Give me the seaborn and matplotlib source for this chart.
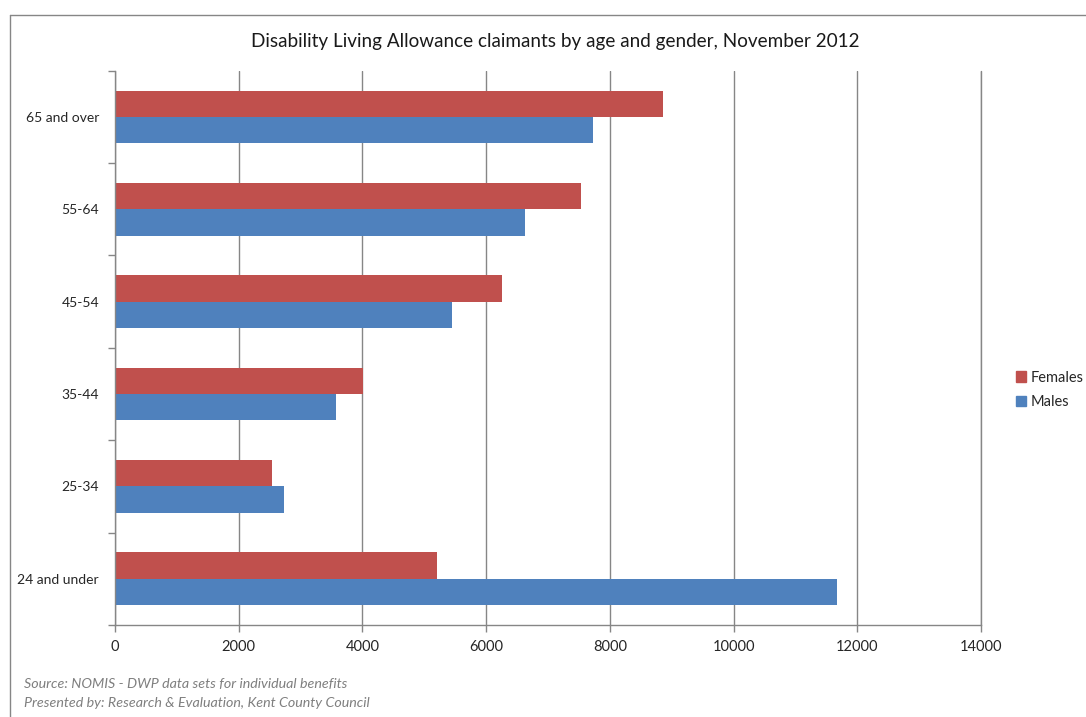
import matplotlib
matplotlib.use("Agg")
import matplotlib.pyplot as plt
import seaborn as sns
import pandas as pd
from matplotlib.patches import Rectangle
from matplotlib.ticker import FixedLocator

categories = ["65 and over", "55-64", "45-54", "35-44", "25-34", "24 and under"]
females = [8860, 7530, 6250, 4015, 2540, 5210]
males = [7725, 6630, 5445, 3570, 2730, 11665]
series = ["Females", "Males"]
colors = ["#C0504D", "#4F81BD"]
xticks = [0, 2000, 4000, 6000, 8000, 10000, 12000, 14000]
title = "Disability Living Allowance claimants by age and gender, November 2012"
footer = ["Source: NOMIS - DWP data sets for individual benefits",
          "Presented by: Research & Evaluation, Kent County Council"]

df = pd.DataFrame({
    "age": categories * 2,
    "value": females + males,
    "gender": ["Females"] * len(categories) + ["Males"] * len(categories),
})

sns.set_theme(style="white")
plt.rcParams["font.family"] = ["Lato", "DejaVu Sans"]

fig = plt.figure(figsize=(10.86, 7.17), dpi=100)
ax = fig.add_axes([115 / 1086, 1 - 625 / 717, (981 - 115) / 1086, (625 - 70.7) / 717])

sns.barplot(data=df, y="age", x="value", hue="gender", order=categories,
            hue_order=series, palette=colors, orient="h", width=0.57,
            gap=0, ax=ax, legend=False, saturation=1, linewidth=0,
            edgecolor="none")
for p in ax.patches:
    p.set_zorder(3)

ax.set_xlim(0, 14000)
ax.set_ylim(len(categories) - 0.5, -0.5)
ax.set_xticks(xticks)
ax.set_xticklabels([str(v) for v in xticks], fontsize=10.5, color="#262626")
ax.set_yticks(range(len(categories)))
ax.set_yticklabels(categories, fontsize=10, color="#262626")
ax.yaxis.set_minor_locator(FixedLocator([i - 0.5 for i in range(len(categories) + 1)]))
ax.tick_params(axis="y", which="major", length=0, pad=11.5)
ax.tick_params(axis="y", which="minor", length=5, width=1, color="#868686", left=True)
ax.tick_params(axis="x", which="major", length=5, width=1, color="#868686", bottom=True, pad=6)
ax.set_xlabel("")
ax.set_ylabel("")
ax.grid(axis="x", color="#868686", linewidth=1, zorder=0)
ax.axvline(xticks[-1], color="#868686", linewidth=1, clip_on=False, zorder=0)
ax.set_axisbelow(True)
for s in ["top", "right"]:
    ax.spines[s].set_visible(False)
for s in ["left", "bottom"]:
    ax.spines[s].set_color("#868686")
    ax.spines[s].set_linewidth(1)
    ax.spines[s].set_zorder(4)

fig.text(555 / 1086, 1 - 42 / 717, title, ha="center", va="center", fontsize=13.6, color="#1a1a1a")

handles = [Rectangle((0, 0), 1, 1, color=c) for c in colors]
fig.legend(handles, series, loc="center left", bbox_to_anchor=(1016 / 1086, 1 - 390 / 717),
           frameon=False, fontsize=10.5, handlelength=0.7, handleheight=0.7,
           handletextpad=0.3, labelspacing=0.75, borderaxespad=0, borderpad=0)

fig.text(24 / 1086, 1 - 684 / 717, footer[0], ha="left", va="center", fontsize=10.3,
         style="italic", color="#7f7f7f")
fig.text(24 / 1086, 1 - 703 / 717, footer[1], ha="left", va="center", fontsize=10.3,
         style="italic", color="#7f7f7f")

# outer chart border
fig.add_artist(plt.Line2D([10 / 1086, 10 / 1086], [0, 1 - 15 / 717], transform=fig.transFigure,
                          color="#868686", linewidth=1))
fig.add_artist(plt.Line2D([10 / 1086, 1], [1 - 15 / 717, 1 - 15 / 717], transform=fig.transFigure,
                          color="#868686", linewidth=1))

fig.savefig("out.png", dpi=100)
